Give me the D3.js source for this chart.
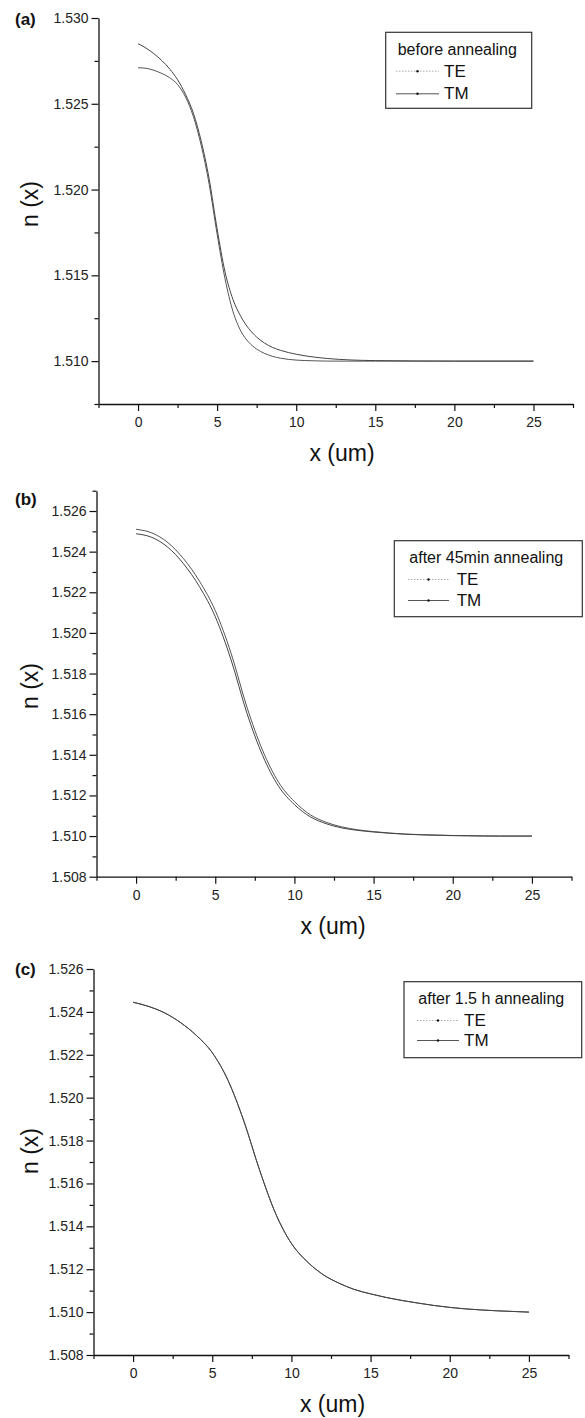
<!DOCTYPE html>
<html><head><meta charset="utf-8">
<script src="https://cdn.jsdelivr.net/npm/d3@7"></script>
<style>
body{margin:0;background:#fff;}
svg{display:block;font-family:"Liberation Sans",Arial,sans-serif;}
</style></head>
<body><svg id="chart" width="585" height="1418"></svg>
<script>
// ---------- data ----------
const panelLabels = ["(a)", "(b)", "(c)"];
const legendTitles = ["before annealing", "after 45min annealing", "after 1.5 h annealing"];
const seriesNames = ["TE", "TM"];

const xA = [0,0.5,1,1.5,2,2.5,3,3.5,4,4.5,5,5.5,6,6.5,7,7.5,8,8.5,9,10,11,12,15,20,25];
const teA = [1.52710,1.52707,1.52695,1.52677,1.52652,1.52612,1.52540,1.52425,1.52255,1.52030,1.51740,1.51480,1.51290,1.51175,1.51110,1.51070,1.51045,1.51028,1.51017,1.51006,1.51002,1.51000,1.51000,1.51000,1.51000];
const tmA = [1.52850,1.52825,1.52792,1.52752,1.52703,1.52640,1.52555,1.52445,1.52280,1.52060,1.51770,1.51520,1.51360,1.51260,1.51190,1.51140,1.51105,1.51080,1.51063,1.51040,1.51025,1.51015,1.51003,1.51000,1.51000];

const xB = [0,1,2,3,4,5,6,7,8,9,10,11,12,13,14,15,16,17,18,19,20,21,22,23,24,25];
const teB = [1.52510,1.52492,1.52445,1.52365,1.52255,1.52110,1.51900,1.51635,1.51420,1.51265,1.51170,1.51105,1.51068,1.51045,1.51031,1.51022,1.51015,1.51010,1.51007,1.51005,1.51003,1.51002,1.51001,1.51000,1.51000,1.51000];
const tmB = [1.52488,1.52470,1.52422,1.52340,1.52228,1.52080,1.51867,1.51605,1.51395,1.51245,1.51155,1.51095,1.51061,1.51040,1.51028,1.51020,1.51014,1.51009,1.51006,1.51004,1.51002,1.51001,1.51000,1.51000,1.51000,1.51000];

const xC = [0,1,2,3,4,5,6,7,8,9,10,11,12,13,14,15,16,17,18,19,20,21,22,23,24,25];
const teC = [1.52445,1.52425,1.52395,1.52350,1.52290,1.52210,1.52080,1.51890,1.51660,1.51460,1.51320,1.51235,1.51175,1.51135,1.51105,1.51085,1.51068,1.51054,1.51042,1.51031,1.51022,1.51015,1.51010,1.51006,1.51003,1.51000];
const tmC = [1.52445,1.52425,1.52395,1.52350,1.52290,1.52210,1.52080,1.51890,1.51660,1.51460,1.51320,1.51235,1.51175,1.51135,1.51105,1.51085,1.51068,1.51054,1.51042,1.51031,1.51022,1.51015,1.51010,1.51006,1.51003,1.51000];

const xDomain = [-2.5, 27.5];
const xMajorTicks = [0,5,10,15,20,25];
const yDomains = [[1.5075,1.530],[1.508,1.527],[1.508,1.526]];
const yMajorTicks = [
  [1.510,1.515,1.520,1.525,1.530],
  [1.508,1.510,1.512,1.514,1.516,1.518,1.520,1.522,1.524,1.526],
  [1.508,1.510,1.512,1.514,1.516,1.518,1.520,1.522,1.524,1.526]
];
const yMinorStep = [0.0025, 0.001, 0.001];
const xTitle = "x (um)";
const yTitle = "n (x)";

// ---------- layout ----------
const layouts = [
  {left:98.5, right:573, top:18, bottom:404, labelY:25, yTitleY:204, xTitleX:342,
   legend:{x0:385.7,x1:531.7,y0:32.3,y1:108.3,titleX:397.7,titleY:55,lineX0:396,lineX1:439,textX:444,rowY:[76.7,99.3]}},
  {left:96.5, right:571.5, top:490.7, bottom:876.7, labelY:505, yTitleY:686, xTitleX:333,
   legend:{x0:394.3,x1:582.3,y0:540.7,y1:616.7,titleX:409.3,titleY:562.7,lineX0:408,lineX1:449,textX:456.7,rowY:[585,606]}},
  {left:93.5, right:568.5, top:969, bottom:1355, labelY:975, yTitleY:1151, xTitleX:332.5,
   legend:{x0:404,x1:581.7,y0:981.7,y1:1057.7,titleX:418.3,titleY:1004.3,lineX0:417,lineX1:459,textX:464,rowY:[1026,1046]}}
];
const panels = [
  {x:xA, te:teA, tm:tmA},
  {x:xB, te:teB, tm:tmB},
  {x:xC, te:teC, tm:tmC}
];

const svg = d3.select("#chart");

panels.forEach((p, i) => {
  const L = layouts[i];
  const g = svg.append("g");
  const x = d3.scaleLinear().domain(xDomain).range([L.left, L.right]);
  const y = d3.scaleLinear().domain(yDomains[i]).range([L.bottom, L.top]);

  const xMinor = d3.range(xDomain[0], xDomain[1] + 0.001, 2.5).filter(v => !xMajorTicks.some(t => Math.abs(t - v) < 1e-6));
  const yMinor = d3.range(yDomains[i][0], yDomains[i][1] + 1e-7, yMinorStep[i])
    .filter(v => !yMajorTicks[i].some(t => Math.abs(t - v) < 1e-7));

  const xAxisMinor = d3.axisBottom(x).tickValues(xMinor).tickSize(4).tickFormat("");
  const yAxisMinor = d3.axisLeft(y).tickValues(yMinor).tickSize(4).tickFormat("");
  g.append("g").attr("transform", `translate(0,${L.bottom})`).call(xAxisMinor).call(s => s.select(".domain").remove());
  g.append("g").attr("transform", `translate(${L.left},0)`).call(yAxisMinor).call(s => s.select(".domain").remove());

  const xAxis = d3.axisBottom(x).tickValues(xMajorTicks).tickSize(7).tickSizeOuter(0).tickPadding(6).tickFormat(d3.format("d"));
  const yAxis = d3.axisLeft(y).tickValues(yMajorTicks[i]).tickSize(7).tickSizeOuter(0).tickPadding(3).tickFormat(d3.format(".3f"));
  const gx = g.append("g").attr("transform", `translate(0,${L.bottom})`).call(xAxis);
  const gy = g.append("g").attr("transform", `translate(${L.left},0)`).call(yAxis);

  [gx, gy].forEach(a => {
    a.selectAll("text").attr("font-size", 14).attr("fill", "#222").attr("font-family", "Liberation Sans, Arial, sans-serif");
    a.selectAll(".domain").attr("stroke", "#111").attr("stroke-width", 1.3);
  });
  g.selectAll(".tick line").attr("stroke", "#111").attr("stroke-width", 1.2);

  // curves
  const line = d3.line().x((d, k) => x(p.x[k])).y(d => y(d)).curve(d3.curveMonotoneX);
  g.append("path").datum(p.te).attr("d", line).attr("fill", "none").attr("stroke", "#555").attr("stroke-width", 1);
  g.append("path").datum(p.tm).attr("d", line).attr("fill", "none").attr("stroke", "#444").attr("stroke-width", 1);

  // titles
  g.append("text").attr("x", L.xTitleX).attr("y", L.bottom + 57)
    .attr("text-anchor", "middle").attr("font-size", 23).attr("fill", "#111").text(xTitle);
  g.append("text").attr("transform", `translate(38,${L.yTitleY}) rotate(-90)`)
    .attr("text-anchor", "middle").attr("font-size", 23).attr("fill", "#111").text(yTitle);
  g.append("text").attr("x", 15).attr("y", L.labelY).attr("font-size", 17).attr("font-weight", "bold")
    .attr("fill", "#111").text(panelLabels[i]);

  // legend
  const lg = L.legend;
  g.append("rect").attr("x", lg.x0).attr("y", lg.y0).attr("width", lg.x1 - lg.x0).attr("height", lg.y1 - lg.y0)
    .attr("fill", "#fff").attr("stroke", "#333").attr("stroke-width", 1.2);
  g.append("text").attr("x", lg.titleX).attr("y", lg.titleY).attr("font-size", 16).attr("fill", "#111").text(legendTitles[i]);
  seriesNames.forEach((name, k) => {
    const yy = lg.rowY[k] - 5.5;
    g.append("line").attr("x1", lg.lineX0).attr("x2", lg.lineX1).attr("y1", yy).attr("y2", yy)
      .attr("stroke", k === 0 ? "#aaa" : "#555").attr("stroke-width", 1)
      .attr("stroke-dasharray", k === 0 ? "1.5,1.5" : null);
    g.append("circle").attr("cx", (lg.lineX0 + lg.lineX1) / 2).attr("cy", yy).attr("r", 1.2).attr("fill", "#111");
    g.append("text").attr("x", lg.textX).attr("y", lg.rowY[k]).attr("font-size", 17).attr("fill", "#111").text(name);
  });
});
</script></body></html>
